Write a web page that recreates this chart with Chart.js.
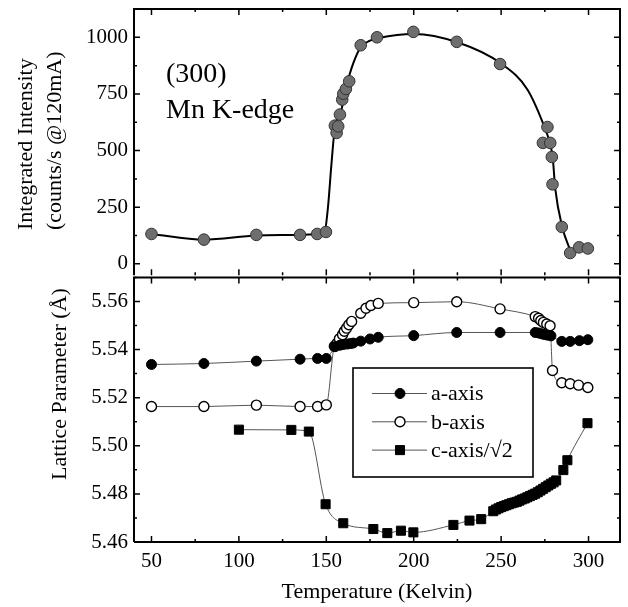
<!DOCTYPE html>
<html>
<head>
<meta charset="utf-8">
<script src="https://cdn.jsdelivr.net/npm/chart.js@4.4.0/dist/chart.umd.min.js"></script>
<style>
  body { margin: 0; background: #fff; }
  #wrap { position: relative; width: 628px; height: 607px; }
  .box { position: absolute; left: 0; width: 628px; }
</style>
</head>
<body>
<div id="wrap">
  <div class="box" style="top:0;height:282px;"><canvas id="ch-top"></canvas></div>
  <div class="box" style="top:270px;height:337px;"><canvas id="ch-bot"></canvas></div>
</div>
<script>
// axis ticks
const xMajor = [50, 100, 150, 200, 250, 300];
const xMinor = [75, 125, 175, 225, 275];
const iMajor = [0, 250, 500, 750, 1000];
const iMinor = [125, 375, 625, 875];
const lMajor = [5.46, 5.48, 5.50, 5.52, 5.54, 5.56];
const lMinor = [5.47, 5.49, 5.51, 5.53, 5.55, 5.57];

// (300) integrated intensity, measured points
const intT = [50, 80, 110, 135, 144.8, 149.8, 154.9, 155.9, 156.8, 157.8, 159.1, 159.7, 161.2, 163.1, 169.7, 179, 199.8, 224.6, 249.4, 273.9, 276.5, 278.1, 279, 279.4, 284.7, 289.5, 294.6, 299.6];
const intV = [132, 107, 128, 128, 132, 141, 610, 578, 607, 659, 725, 751, 772, 806, 965, 1000, 1024, 980, 882, 534, 604, 534, 472, 351, 163, 48, 73, 68];
// guide curve through the intensity
const fitT = [50, 80, 110, 135, 145, 149, 151, 153, 155, 158, 161.5, 165.5, 170, 175, 180, 200, 225, 250, 265, 274, 278, 279.5, 281, 285, 290];
const fitV = [132, 107, 125, 128, 132, 141, 254, 446, 607, 660, 784, 887, 960, 985, 997, 1015, 978, 884, 770, 620, 530, 470, 330, 162, 50];

// lattice parameters
const aT = [50, 80, 110, 135, 145, 150, 155, 157.8, 159.7, 162, 163.9, 165.4, 169.7, 175, 179.7, 200, 224.6, 249.4, 269.5, 271.4, 273, 274.5, 276.5, 278.5, 284.7, 289.5, 294.8, 299.6];
const aL = [5.5338, 5.5342, 5.5352, 5.5360, 5.5363, 5.5363, 5.5412, 5.5418, 5.5421, 5.5423, 5.5425, 5.5427, 5.5435, 5.5444, 5.5451, 5.5458, 5.5471, 5.5471, 5.5471, 5.5469, 5.5466, 5.5463, 5.5460, 5.5457, 5.5434, 5.5434, 5.5437, 5.5441];
const bT = [50, 80, 110, 135, 145, 150, 154.6, 156, 157.5, 159.3, 160.3, 161.6, 162.9, 164.5, 169.7, 172.7, 175.5, 179.7, 200, 224.6, 249.4, 269.5, 271.4, 272.7, 274.2, 276.1, 278, 279.4, 284.7, 289.5, 294.3, 299.6];
const bL = [5.5163, 5.5163, 5.5169, 5.5163, 5.5163, 5.5170, 5.5414, 5.5425, 5.5445, 5.5462, 5.5476, 5.5489, 5.5503, 5.5517, 5.5551, 5.5572, 5.5583, 5.5592, 5.5595, 5.5599, 5.5569, 5.5537, 5.5530, 5.5521, 5.5513, 5.5506, 5.5499, 5.5313, 5.5262, 5.5258, 5.5252, 5.5242];
const cT = [100, 130, 140, 149.6, 159.7, 176.9, 184.9, 192.7, 199.8, 222.7, 231.9, 238.6, 245.5, 247, 248.5, 250, 251.5, 253, 254.5, 256, 257.5, 259, 260.5, 262, 263.5, 265, 266.5, 268, 269.5, 271, 272.5, 274, 275.5, 277, 278.5, 280, 281.5, 285.6, 287.9, 299.4];
const cL = [5.5067, 5.5066, 5.5059, 5.4757, 5.4678, 5.4654, 5.4637, 5.4647, 5.4640, 5.4671, 5.4689, 5.4695, 5.4728, 5.4735, 5.4740, 5.4745, 5.4749, 5.4753, 5.4757, 5.4761, 5.4764, 5.4767, 5.4772, 5.4777, 5.4781, 5.4786, 5.4791, 5.4796, 5.4801, 5.4807, 5.4814, 5.4821, 5.4828, 5.4835, 5.4842, 5.4848, 5.4856, 5.4899, 5.4940, 5.5094];

const serif = '"Liberation Serif", "Times New Roman", serif';
const pts = (xs, ys) => xs.map((x, i) => ({ x, y: ys[i] }));

// frame with inward ticks; the shared edge between the panels is drawn once (by the lower panel)
const frame = (yMaj, yMin, drawBottom) => ({
  id: 'frame',
  afterDatasetsDraw(chart) {
    const { ctx, chartArea: a } = chart, sx = chart.scales.x, sy = chart.scales.y;
    ctx.save();
    ctx.strokeStyle = '#000';
    ctx.lineWidth = 1.5;
    ctx.beginPath();
    const tx = (vals, len) => vals.forEach(v => {
      const p = sx.getPixelForValue(v);
      ctx.moveTo(p, a.top); ctx.lineTo(p, a.top + len);
      ctx.moveTo(p, a.bottom); ctx.lineTo(p, a.bottom - len);
    });
    const ty = (vals, len) => vals.forEach(v => {
      const p = sy.getPixelForValue(v);
      ctx.moveTo(a.left, p); ctx.lineTo(a.left + len, p);
      ctx.moveTo(a.right, p); ctx.lineTo(a.right - len, p);
    });
    tx(xMajor, 6); tx(xMinor, 3); ty(yMaj, 6); ty(yMin, 3);
    ctx.stroke();
    ctx.lineWidth = 2;
    ctx.beginPath();
    ctx.moveTo(a.left, a.bottom); ctx.lineTo(a.left, a.top);
    ctx.lineTo(a.right, a.top); ctx.lineTo(a.right, a.bottom);
    if (drawBottom) ctx.lineTo(a.left, a.bottom);
    ctx.stroke();
    ctx.restore();
  }
});

// free text (rotated axis titles, annotation)
const texts = (items) => ({
  id: 'texts',
  afterDraw(chart) {
    const ctx = chart.ctx;
    ctx.save();
    ctx.fillStyle = '#000';
    items.forEach(t => {
      ctx.save();
      ctx.translate(t.x, t.y);
      if (t.rot) ctx.rotate(-Math.PI / 2);
      ctx.font = t.size + 'px ' + serif;
      ctx.textAlign = 'left';
      ctx.textBaseline = 'alphabetic';
      ctx.fillText(t.text, 0, 0);
      ctx.restore();
    });
    ctx.restore();
  }
});

function marker(ctx, ds, x, y) {
  ctx.fillStyle = ds.pointBackgroundColor;
  ctx.strokeStyle = ds.pointBorderColor;
  ctx.lineWidth = ds.pointBorderWidth;
  ctx.beginPath();
  if (ds.pointStyle === 'rect') {
    const h = ds.pointRadius * Math.SQRT1_2;
    ctx.rect(x - h, y - h, 2 * h, 2 * h);
  } else {
    ctx.arc(x, y, ds.pointRadius, 0, Math.PI * 2);
  }
  ctx.fill();
  ctx.stroke();
}

const legendBox = {
  id: 'legendBox',
  afterDatasetsDraw(chart) {
    const ctx = chart.ctx;
    ctx.save();
    ctx.fillStyle = '#fff';
    ctx.fillRect(353, 98, 180, 109);
    ctx.strokeStyle = '#000';
    ctx.lineWidth = 1.6;
    ctx.strokeRect(353, 98, 180, 109);
    chart.data.datasets.forEach((ds, i) => {
      const y = 123.5 + i * 28.3;
      ctx.strokeStyle = ds.borderColor;
      ctx.lineWidth = 1;
      ctx.beginPath();
      ctx.moveTo(372, y); ctx.lineTo(427, y);
      ctx.stroke();
      marker(ctx, ds, 400, y);
      ctx.fillStyle = '#000';
      ctx.font = '22px ' + serif;
      ctx.textBaseline = 'middle';
      ctx.fillText(ds.label, 431, y + 1);
    });
    ctx.restore();
  }
};

const noPad = s => { s.paddingTop = 0; s.paddingBottom = 0; s.paddingLeft = 0; s.paddingRight = 0; };

const xScale = (showLabels) => ({
  type: 'linear', min: 40, max: 318,
  display: showLabels,
  afterBuildTicks: s => { s.ticks = xMajor.map(v => ({ value: v })); },
  afterFit: s => { s.height = showLabels ? 65 : 0; noPad(s); },
  grid: { display: false, drawTicks: false },
  border: { display: false },
  ticks: { color: '#000', font: { family: serif, size: 21 }, padding: 7, maxRotation: 0 },
  title: { display: showLabels, text: 'Temperature (Kelvin)', color: '#000', font: { family: serif, size: 22 }, padding: { top: 6, bottom: 2 } }
});

const yScale = (min, max, major, fmt) => ({
  type: 'linear', min, max,
  afterBuildTicks: s => { s.ticks = major.map(v => ({ value: v })); },
  afterFit: s => { s.width = 134; noPad(s); },
  grid: { display: false, drawTicks: false },
  border: { display: false },
  ticks: { color: '#000', font: { family: serif, size: 21 }, padding: 6, callback: fmt }
});

new Chart(document.getElementById('ch-top').getContext('2d'), {
  type: 'scatter',
  data: {
    datasets: [
      { label: 'I', data: pts(intT, intV), showLine: false,
        pointRadius: 5.8, pointBackgroundColor: '#6e6e6e', pointBorderColor: '#333', pointBorderWidth: 1 },
      { label: 'fit', data: pts(fitT, fitV), showLine: true, borderColor: '#000', borderWidth: 2,
        pointRadius: 0, cubicInterpolationMode: 'monotone' }
    ]
  },
  options: {
    responsive: true, maintainAspectRatio: false, animation: false,
    layout: { padding: { top: 9, right: 8, bottom: 5, left: 0 } },
    plugins: { legend: { display: false }, tooltip: { enabled: false } },
    scales: { x: xScale(false), y: yScale(-50, 1125, iMajor, v => String(v)) }
  },
  plugins: [frame(iMajor, iMinor, false), texts([
    { text: 'Integrated Intensity', x: 32, y: 230, size: 22, rot: true },
    { text: '(counts/s @120mA)', x: 61, y: 230, size: 22, rot: true },
    { text: '(300)', x: 166, y: 82, size: 28 },
    { text: 'Mn K-edge', x: 166, y: 118, size: 28 }
  ])]
});

const line = { showLine: true, borderColor: '#555', borderWidth: 1, cubicInterpolationMode: 'monotone' };

new Chart(document.getElementById('ch-bot').getContext('2d'), {
  type: 'scatter',
  data: {
    datasets: [
      { ...line, label: 'a-axis', data: pts(aT, aL), pointStyle: 'circle', pointRadius: 5,
        pointBackgroundColor: '#000', pointBorderColor: '#000', pointBorderWidth: 1 },
      { ...line, label: 'b-axis', data: pts(bT, bL), pointStyle: 'circle', pointRadius: 5,
        pointBackgroundColor: '#fff', pointBorderColor: '#000', pointBorderWidth: 1.4 },
      { ...line, label: 'c-axis/\u221A2', data: pts(cT, cL), pointStyle: 'rect', pointRadius: 6.4,
        pointBackgroundColor: '#000', pointBorderColor: '#000', pointBorderWidth: 1 }
    ]
  },
  options: {
    responsive: true, maintainAspectRatio: false, animation: false,
    layout: { padding: { top: 6, right: 8, bottom: 0, left: 0 } },
    plugins: { legend: { display: false }, tooltip: { enabled: false } },
    scales: { x: xScale(true), y: yScale(5.46, 5.57, lMajor, v => v.toFixed(2)) }
  },
  plugins: [frame(lMajor, lMinor, true), legendBox, texts([
    { text: 'Lattice Parameter (\u00C5)', x: 66, y: 210, size: 22, rot: true }
  ])]
});
</script>
</body>
</html>
